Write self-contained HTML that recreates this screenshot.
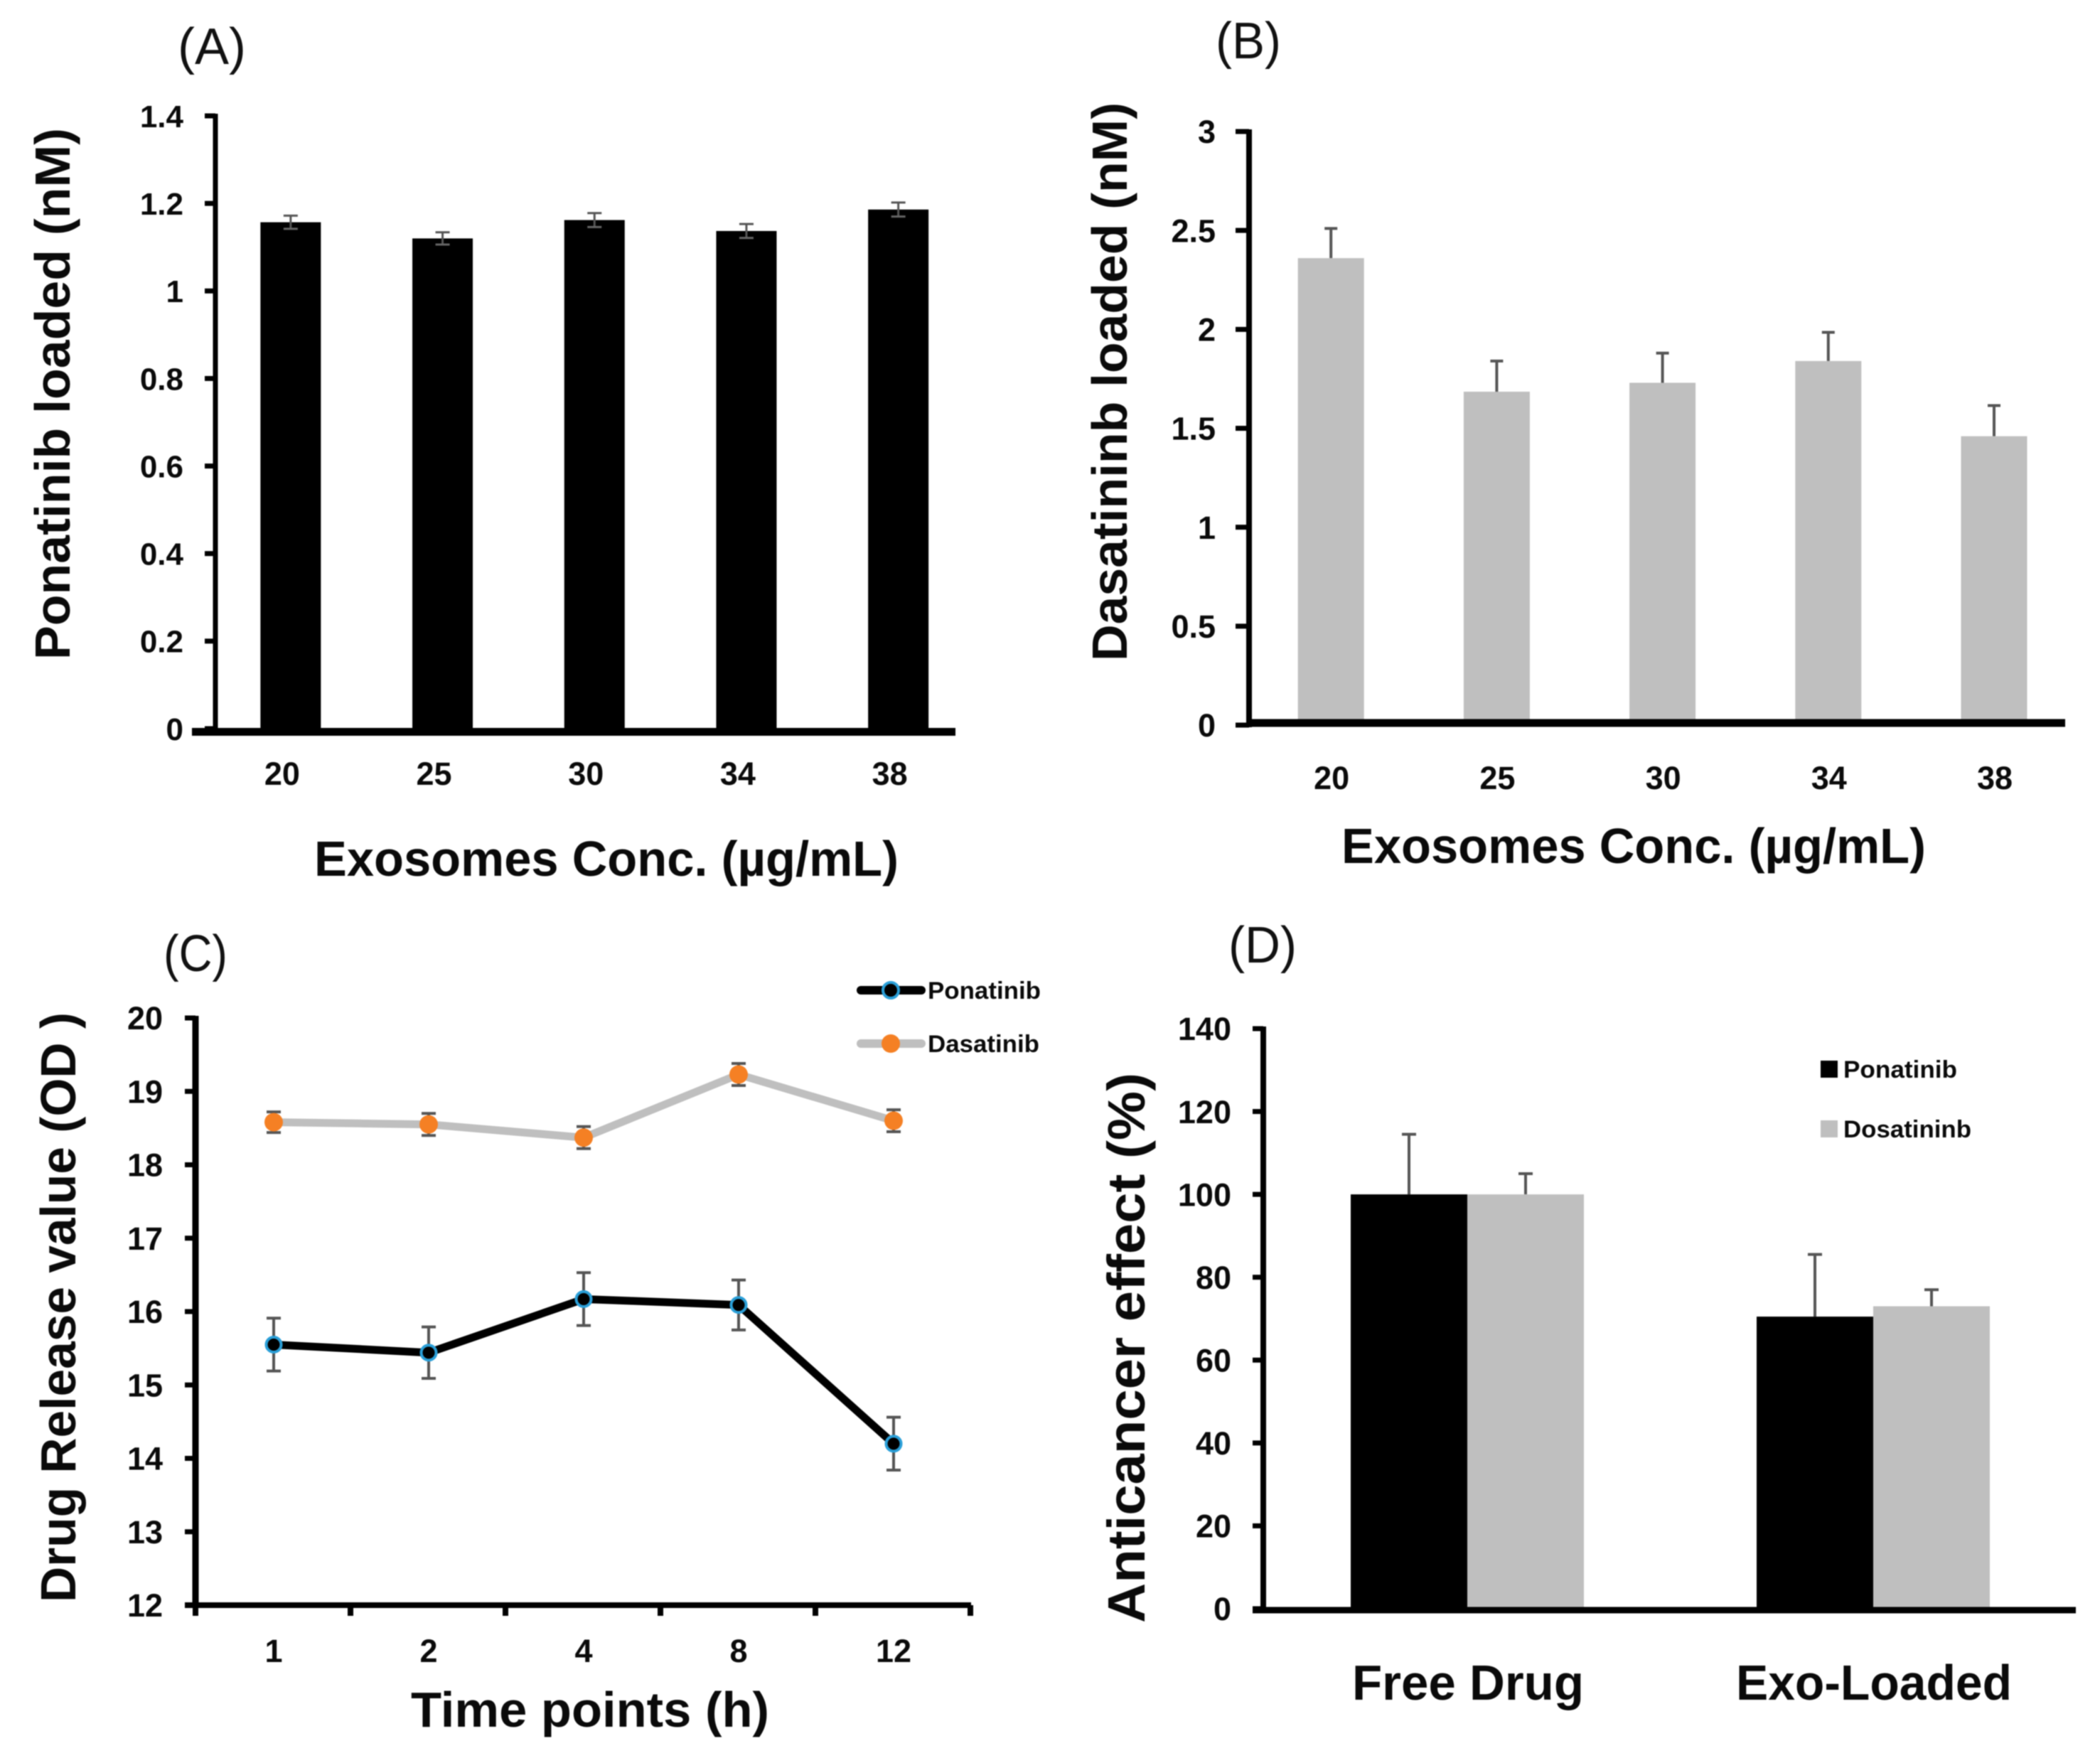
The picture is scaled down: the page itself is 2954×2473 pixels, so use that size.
<!DOCTYPE html>
<html lang="en">
<head>
<meta charset="utf-8">
<title>Exosome drug loading and release charts</title>
<style>
html,body{margin:0;padding:0;background:#fff;}
svg{display:block;font-family:"Liberation Sans",sans-serif;filter:blur(0.7px);}
.t{font-weight:700;fill:#0a0a0a;}
.p{font-weight:400;fill:#111;font-size:72px;}
</style>
</head>
<body>
<svg id="fig" width="2954" height="2473" viewBox="0 0 2954 2473" xmlns="http://www.w3.org/2000/svg">
<rect width="2954" height="2473" fill="#fff"/>
<text class="p" x="250" y="90" textLength="96" lengthAdjust="spacingAndGlyphs">(A)</text>
<text class="p" x="1710" y="82" textLength="92" lengthAdjust="spacingAndGlyphs">(B)</text>
<text class="p" x="230" y="1366" textLength="90" lengthAdjust="spacingAndGlyphs">(C)</text>
<text class="p" x="1728" y="1354" textLength="96" lengthAdjust="spacingAndGlyphs">(D)</text>

<text class="t" font-size="70" transform="translate(98,928) rotate(-90)" textLength="748" lengthAdjust="spacingAndGlyphs">Ponatinib loaded (nM)</text>
<text class="t" font-size="70" x="442" y="1232" textLength="822" lengthAdjust="spacingAndGlyphs">Exosomes Conc. (µg/mL)</text>
<text class="t" font-size="70" transform="translate(1585,930) rotate(-90)" textLength="786" lengthAdjust="spacingAndGlyphs">Dasatininb loaded (nM)</text>
<text class="t" font-size="70" x="1887" y="1214" textLength="822" lengthAdjust="spacingAndGlyphs">Exosomes Conc. (µg/mL)</text>
<text class="t" font-size="70" transform="translate(106,2254) rotate(-90)" textLength="830" lengthAdjust="spacingAndGlyphs">Drug Release value (OD )</text>
<text class="t" font-size="70" x="578" y="2429" textLength="504" lengthAdjust="spacingAndGlyphs">Time points (h)</text>
<text class="t" font-size="74" transform="translate(1610,2283) rotate(-90)" textLength="774" lengthAdjust="spacingAndGlyphs">Anticancer effect (%)</text>

<line x1="1211" y1="1393" x2="1296" y2="1393" stroke="#000" stroke-width="12" stroke-linecap="round"/>
<circle cx="1253" cy="1393" r="11" fill="#000" stroke="#2a9fd8" stroke-width="4"/>
<text class="t" font-size="34" x="1305" y="1405" textLength="159" lengthAdjust="spacingAndGlyphs">Ponatinib</text>
<line x1="1211" y1="1468" x2="1296" y2="1468" stroke="#bfbfbf" stroke-width="12" stroke-linecap="round"/>
<circle cx="1253" cy="1468" r="13" fill="#f58024"/>
<text class="t" font-size="34" x="1305" y="1480" textLength="157" lengthAdjust="spacingAndGlyphs">Dasatinib</text>

<rect x="2561" y="1492" width="24" height="24" fill="#000"/>
<text class="t" font-size="34" x="2593" y="1516" textLength="160" lengthAdjust="spacingAndGlyphs">Ponatinib</text>
<rect x="2561" y="1576" width="24" height="24" fill="#bfbfbf"/>
<text class="t" font-size="34" x="2593" y="1600" textLength="180" lengthAdjust="spacingAndGlyphs">Dosatininb</text>
</svg>
<script>
// Panel A
const catsA = ['20', '25', '30', '34', '38'];
const valuesA = [1.157, 1.12, 1.162, 1.137, 1.186];
const errorsA = [0.015, 0.014, 0.016, 0.016, 0.016];
const ticksA = ['0', '0.2', '0.4', '0.6', '0.8', '1', '1.2', '1.4'];
// Panel B
const catsB = ['20', '25', '30', '34', '38'];
const valuesB = [2.36, 1.685, 1.73, 1.84, 1.46];
const errorsB = [0.15, 0.155, 0.15, 0.145, 0.155];
const ticksB = ['0', '0.5', '1', '1.5', '2', '2.5', '3'];
// Panel C
const catsC = ['1', '2', '4', '8', '12'];
const ponatinibC = [15.55, 15.44, 16.17, 16.09, 14.2];
const ponatinibErrC = [0.36, 0.35, 0.36, 0.34, 0.36];
const dasatinibC = [18.58, 18.55, 18.37, 19.23, 18.6];
const dasatinibErrC = [0.14, 0.15, 0.15, 0.15, 0.15];
const ticksC = ['12', '13', '14', '15', '16', '17', '18', '19', '20'];
// Panel D
const catsD = ['Free Drug', 'Exo-Loaded'];
const ponatinibD = [100, 70.5];
const ponatinibErrD = [14.5, 15];
const dosatininbD = [100, 73];
const dosatininbErrD = [5, 4];
const ticksD = ['0', '20', '40', '60', '80', '100', '120', '140'];

const NS = 'http://www.w3.org/2000/svg';
const svg = document.getElementById('fig');
function mk(tag, attrs) {
  const el = document.createElementNS(NS, tag);
  for (const k in attrs) el.setAttribute(k, attrs[k]);
  svg.appendChild(el);
  return el;
}
function linearY(min, max, yBottom, yTop) {
  return v => yBottom - (v - min) / (max - min) * (yBottom - yTop);
}
function bandX(x0, step) {
  return i => x0 + (i + 0.5) * step;
}
function drawAxes(p, cfg) {
  const yAxis = mk('line', {x1: cfg.x0, y1: cfg.yTop - 3, x2: cfg.x0, y2: cfg.yBase + 3, stroke: '#000', 'stroke-width': cfg.yW});
  
  
  const xAxis = mk('line', {x1: cfg.xL, y1: cfg.xY, x2: cfg.xR, y2: cfg.xY, stroke: '#000', 'stroke-width': cfg.xW});
  
  
  cfg.ticks.forEach(t => {
    const y = cfg.y(parseFloat(t));
    const tick = mk('line', {x1: cfg.x0 - cfg.tLen, y1: y, x2: cfg.x0, y2: y, stroke: '#000', 'stroke-width': 7});
    
    
    const lab = mk('text', {x: cfg.labX, y: y + cfg.fs * 0.36, 'text-anchor': 'end', 'font-size': cfg.fs, class: 't'});
    lab.textContent = t;
    
    
  });
}
function drawCats(p, cats, x, dx, y, fs) {
  cats.forEach((c, i) => {
    const lab = mk('text', {x: x(i) + dx, y: y, 'text-anchor': 'middle', 'font-size': fs, class: 't'});
    lab.textContent = c;
    
    
  });
}
function drawBar(p, cx, w, yTopPx, yBase, fill) {
  const bar = mk('rect', {x: cx - w / 2, y: yTopPx, width: w, height: yBase - yTopPx, fill: fill});
  
  
}
function drawErr(p, cx, y1, y2, cap, w) {
  const stem = mk('line', {x1: cx, y1: y1, x2: cx, y2: y2, stroke: '#555', 'stroke-width': w});
  
  
  const top = mk('line', {x1: cx - cap, y1: y2, x2: cx + cap, y2: y2, stroke: '#555', 'stroke-width': w});
  
  
}

// Panel A drawing
const yA = linearY(0, 1.4, 1025, 163);
const xA = bandX(302, 213.7);
valuesA.forEach((v, i) => {
  drawBar('panel-a', xA(i), 85, yA(v), 1025, '#000');
  drawErr('panel-a', xA(i), yA(v - errorsA[i]), yA(v + errorsA[i]), 10, 3);
  const low = mk('line', {x1: xA(i) - 10, y1: yA(v - errorsA[i]), x2: xA(i) + 10, y2: yA(v - errorsA[i]), stroke: '#666', 'stroke-width': 3});
  
  
});
drawAxes('panel-a', {x0: 303, yTop: 163, yBase: 1025, yW: 7, xL: 270, xR: 1344, xY: 1029.5, xW: 11, ticks: ticksA, y: yA, tLen: 15, labX: 258, fs: 44});
drawCats('panel-a', catsA, xA, -12, 1104, 45);

// Panel B drawing
const yB = linearY(0, 3, 1020, 185);
const xB = bandX(1755.6, 233.2);
valuesB.forEach((v, i) => {
  drawErr('panel-b', xB(i), yB(v), yB(v + errorsB[i]), 9, 4);
  drawBar('panel-b', xB(i), 93, yB(v), 1020, '#bfbfbf');
});
drawAxes('panel-b', {x0: 1757, yTop: 185, yBase: 1020, yW: 8, xL: 1757, xR: 2905, xY: 1017, xW: 11, ticks: ticksB, y: yB, tLen: 19, labX: 1710, fs: 45});
drawCats('panel-b', catsB, xB, 1, 1110, 45);

// Panel C drawing
const yC = linearY(12, 20, 2258, 1432);
const xC = bandX(276, 218);
function drawLine(p, values, errs, color, capHalf, errW) {
  values.forEach((v, i) => {
    drawErr(p, xC(i), yC(v - errs[i]), yC(v + errs[i]), capHalf, errW);
    const low = mk('line', {x1: xC(i) - capHalf, y1: yC(v - errs[i]), x2: xC(i) + capHalf, y2: yC(v - errs[i]), stroke: '#555', 'stroke-width': errW});
    
    
  });
  const line = mk('polyline', {points: values.map((v, i) => xC(i) + ',' + yC(v)).join(' '), fill: 'none', stroke: color, 'stroke-width': 11, 'stroke-linejoin': 'round'});
  
  
}
drawLine('dasatinib', dasatinibC, dasatinibErrC, '#bfbfbf', 10, 4);
drawLine('ponatinib', ponatinibC, ponatinibErrC, '#000', 10, 4);
dasatinibC.forEach((v, i) => {
  const m = mk('circle', {cx: xC(i), cy: yC(v), r: 13, fill: '#f58024'});
  
  
});
ponatinibC.forEach((v, i) => {
  const m = mk('circle', {cx: xC(i), cy: yC(v), r: 10.5, fill: '#000', stroke: '#2a9fd8', 'stroke-width': 4});
  
  
});
drawAxes('panel-c', {x0: 275, yTop: 1432, yBase: 2258, yW: 9, xL: 260, xR: 1366, xY: 2258, xW: 8, ticks: ticksC, y: yC, tLen: 15, labX: 229, fs: 45});
catsC.concat(['']).forEach((c, i) => {
  const tx = 275 + i * 218;
  const t = mk('line', {x1: tx, y1: 2258, x2: tx, y2: 2273, stroke: '#000', 'stroke-width': 8});
  
  
});
drawCats('panel-c', catsC, xC, 0, 2338, 45);

// Panel D drawing
const yD = linearY(0, 140, 2263, 1447);
const xD = bandX(1778.5, 571);
catsD.forEach((c, i) => {
  drawErr('panel-d', xD(i) - 82, yD(ponatinibD[i]), yD(ponatinibD[i] + ponatinibErrD[i]), 10, 4);
  drawErr('panel-d', xD(i) + 82, yD(dosatininbD[i]), yD(dosatininbD[i] + dosatininbErrD[i]), 10, 4);
  drawBar('ponatinib', xD(i) - 82, 164, yD(ponatinibD[i]), 2263, '#000');
  drawBar('dosatininb', xD(i) + 82, 164, yD(dosatininbD[i]), 2263, '#bfbfbf');
});
drawAxes('panel-d', {x0: 1777, yTop: 1447, yBase: 2263, yW: 8, xL: 1762, xR: 2920, xY: 2265, xW: 9, ticks: ticksD, y: yD, tLen: 15, labX: 1732, fs: 45});
catsD.forEach((c, i) => {
  const lab = mk('text', {x: xD(i) + 1, y: 2391, 'text-anchor': 'middle', 'font-size': 70, class: 't', textLength: i === 0 ? 326 : 388, lengthAdjust: 'spacingAndGlyphs'});
  lab.textContent = c;
  
  
});
</script>
</body>
</html>
